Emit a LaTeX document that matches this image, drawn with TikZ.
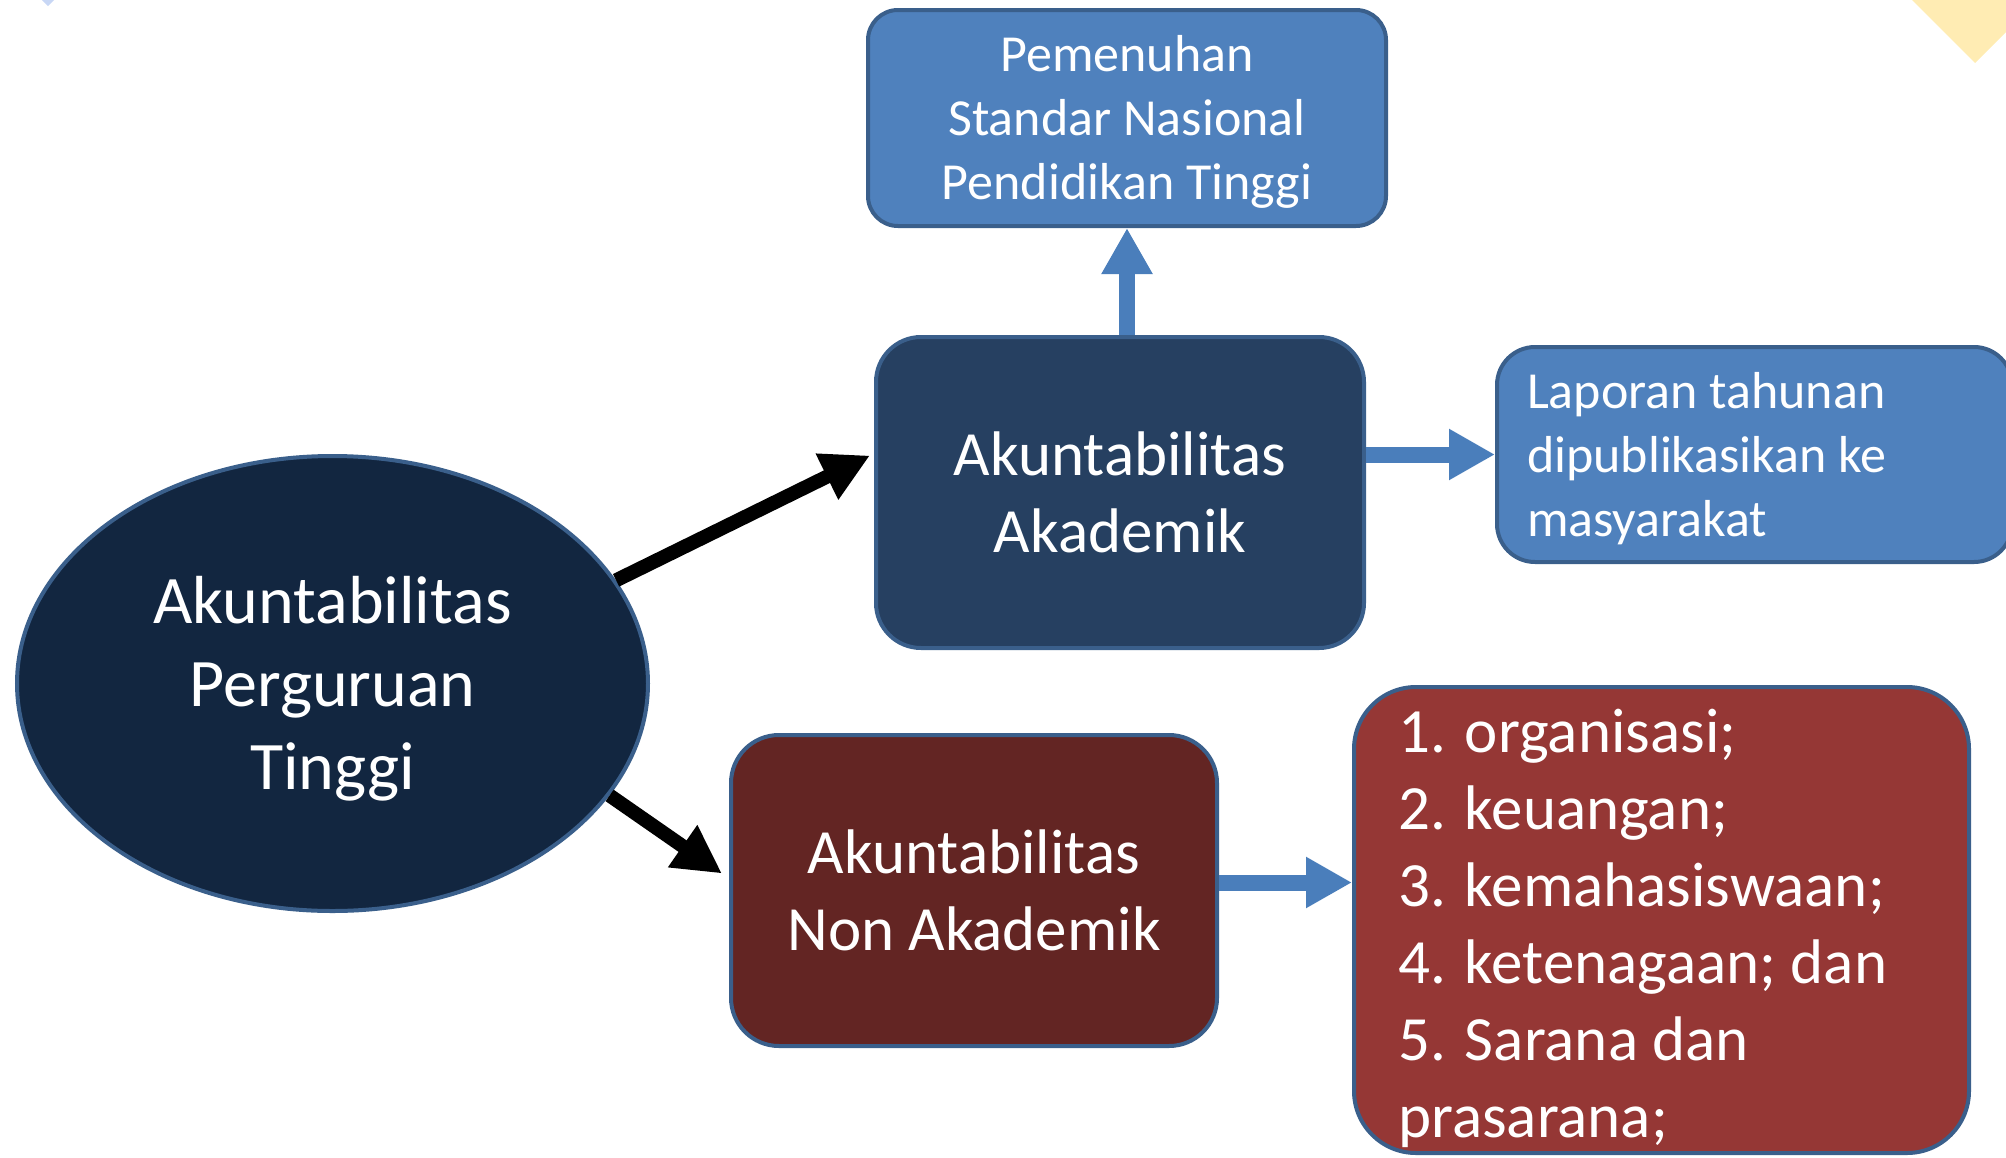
\documentclass[tikz,border=0pt]{standalone}
\usepackage{fontspec}
\setmainfont{Carlito}
\usetikzlibrary{shapes.geometric,arrows.meta}
\definecolor{bordercol}{RGB}{58,95,139}
\definecolor{elcol}{RGB}{18,38,64}
\definecolor{akcol}{RGB}{38,64,97}
\definecolor{lightcol}{RGB}{79,129,189}
\definecolor{nacol}{RGB}{99,37,35}
\definecolor{listcol}{RGB}{149,55,53}
\definecolor{arrowblue}{RGB}{74,126,187}
\definecolor{yellowcol}{RGB}{255,236,179}
\definecolor{markblue}{RGB}{200,215,245}
\begin{document}
\begin{tikzpicture}[x=1pt,y=-1pt,
  rbox/.style={draw=bordercol, line width=4pt, text=white, inner sep=0pt, align=center},
  bigtext/.style={font=\fontsize{63}{77}\selectfont},
  smalltext/.style={font=\fontsize{52}{64}\selectfont},
  blk/.style={draw=black, line width=14pt, -{Triangle[length=48pt,width=48pt]}},
  bluearr/.style={draw=arrowblue, line width=16pt, -{Triangle[length=46pt,width=48pt]}}]
\useasboundingbox (0,0) rectangle (2006,1157);
\clip (0,0) rectangle (2006,1157);
% decorations at the page corners
\fill[yellowcol] (1912,0) -- (1975,63) -- (2040,-2) -- cycle;
\fill[markblue] (42,0) -- (48,6) -- (54,0) -- cycle;
% nodes
\node[rbox, ellipse, fill=elcol, minimum width=631pt, minimum height=455pt,
      font=\fontsize{68}{83}\selectfont] (el) at (332.5,683.5)
      {\rule{0pt}{0.85em}Akuntabilitas\\Perguruan\\Tinggi};
\node[rbox, bigtext, fill=akcol, rounded corners=45pt, minimum width=488pt, minimum height=311pt]
      (ak) at (1120,492.5) {Akuntabilitas\\Akademik};
\node[rbox, smalltext, fill=lightcol, rounded corners=30pt, minimum width=518pt, minimum height=216pt]
      (pem) at (1127,118) {\rule{0pt}{0.85em}Pemenuhan\\Standar Nasional\\Pendidikan Tinggi};
\node[rbox, smalltext, fill=lightcol, rounded corners=38pt, align=flush left, text width=455pt,
      inner xsep=30pt, minimum height=215pt]
      (lap) at (1754.5,454.5) {\rule{0pt}{0.86em}Laporan tahunan\\dipublikasikan ke\\masyarakat};
\node[rbox, bigtext, fill=nacol, rounded corners=48pt, minimum width=486pt, minimum height=311pt]
      (nonak) at (974,890.5) {Akuntabilitas\\Non Akademik};
\node[rbox, fill=listcol, rounded corners=62pt, minimum width=615pt, minimum height=466pt]
      (list) at (1661.5,920) {};
\node[bigtext, text=white, align=flush left, anchor=base west, inner sep=0pt] (listtext) at (1398,1137)
      {1. organisasi;\\2. keuangan;\\3. kemahasiswaan;\\4. ketenagaan; dan\\5. Sarana dan\\prasarana;};
% connectors
\draw[blk] (el.20.5) -- ([xshift=-4pt,yshift=37pt]ak.west);
\draw[blk] (el.-22) -- ([xshift=-7pt,yshift=17pt]nonak.west);
\draw[bluearr] (pem.south |- ak.north) -- (pem.south);
\draw[bluearr] (lap.west -| ak.east) -- (lap.west);
\draw[bluearr] ([yshift=8pt]nonak.east) -- ([yshift=8pt]nonak.east -| list.west);
\end{tikzpicture}
\end{document}
